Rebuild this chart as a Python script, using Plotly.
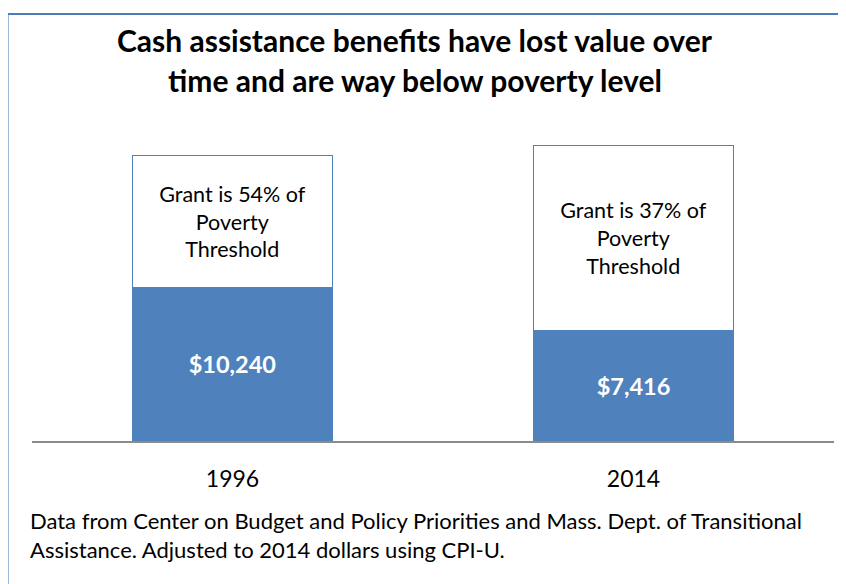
import plotly.graph_objects as go

years = ["1996", "2014"]
grant = [10240, 7416]
poverty_threshold = [19120, 19790]
grant_pct = [54, 37]

remainder = [p - g for p, g in zip(poverty_threshold, grant)]

FONT = "Lato"
BLUE = "#4F81BD"

fig = go.Figure()
fig.add_trace(go.Bar(
    x=years, y=grant, marker=dict(color=BLUE, line=dict(color=BLUE, width=1)),
    text=[f"${v:,}" for v in grant], texttemplate="<b>%{text}</b>",
    textposition="inside", insidetextanchor="middle", textangle=0,
    insidetextfont=dict(family=FONT, size=23.5, color="white"),
    width=0.5, hoverinfo="skip",
))
fig.add_trace(go.Bar(
    x=years, y=remainder, marker=dict(color="white", line=dict(color=BLUE, width=1.2)),
    text=[f"Grant is {p}% of<br>Poverty<br>Threshold" for p in grant_pct],
    textposition="inside", insidetextanchor="middle", textangle=0,
    insidetextfont=dict(family=FONT, size=21.5, color="black"),
    width=0.5, hoverinfo="skip",
))

fig.update_layout(
    barmode="stack", width=846, height=584, showlegend=False,
    margin=dict(l=24, r=20, t=134, b=151),
    paper_bgcolor="white", plot_bgcolor="white",
    font=dict(family=FONT, size=21, color="black"),
    xaxis=dict(showline=True, linecolor="#8C8C8C", linewidth=1.5, showgrid=False,
               ticks="outside", ticklen=17, tickcolor="rgba(0,0,0,0)",
               tickfont=dict(family=FONT, size=23, color="black"), range=[-0.5, 1.5]),
    yaxis=dict(range=[0, 20000], visible=False, showgrid=False, zeroline=False),
    shapes=[dict(type="rect", xref="paper", yref="paper",
                 x0=-0.0305, x1=1.1, y0=-0.8, y1=1.428,
                 line=dict(color="#4A7EBB", width=2), fillcolor="rgba(0,0,0,0)", layer="below")],
    annotations=[
        dict(text="<b>Cash assistance benefits have lost value over</b>", x=0.478, y=1.341,
             xref="paper", yref="paper", showarrow=False, xanchor="center", yanchor="middle",
             font=dict(family=FONT, size=30, color="black")),
        dict(text="<b>time and are way below poverty level</b>", x=0.478, y=1.208,
             xref="paper", yref="paper", showarrow=False, xanchor="center", yanchor="middle",
             font=dict(family=FONT, size=30, color="black")),
        dict(text="Data from Center on Budget and Policy Priorities and Mass. Dept. of Transitional", x=-0.005, y=-0.266,
             xref="paper", yref="paper", showarrow=False, xanchor="left", yanchor="middle",
             font=dict(family=FONT, size=22, color="black")),
        dict(text="Assistance. Adjusted to 2014 dollars using CPI-U.", x=-0.005, y=-0.363,
             xref="paper", yref="paper", showarrow=False, xanchor="left", yanchor="middle",
             font=dict(family=FONT, size=22, color="black")),
    ],
)

fig.write_html("out.html")
